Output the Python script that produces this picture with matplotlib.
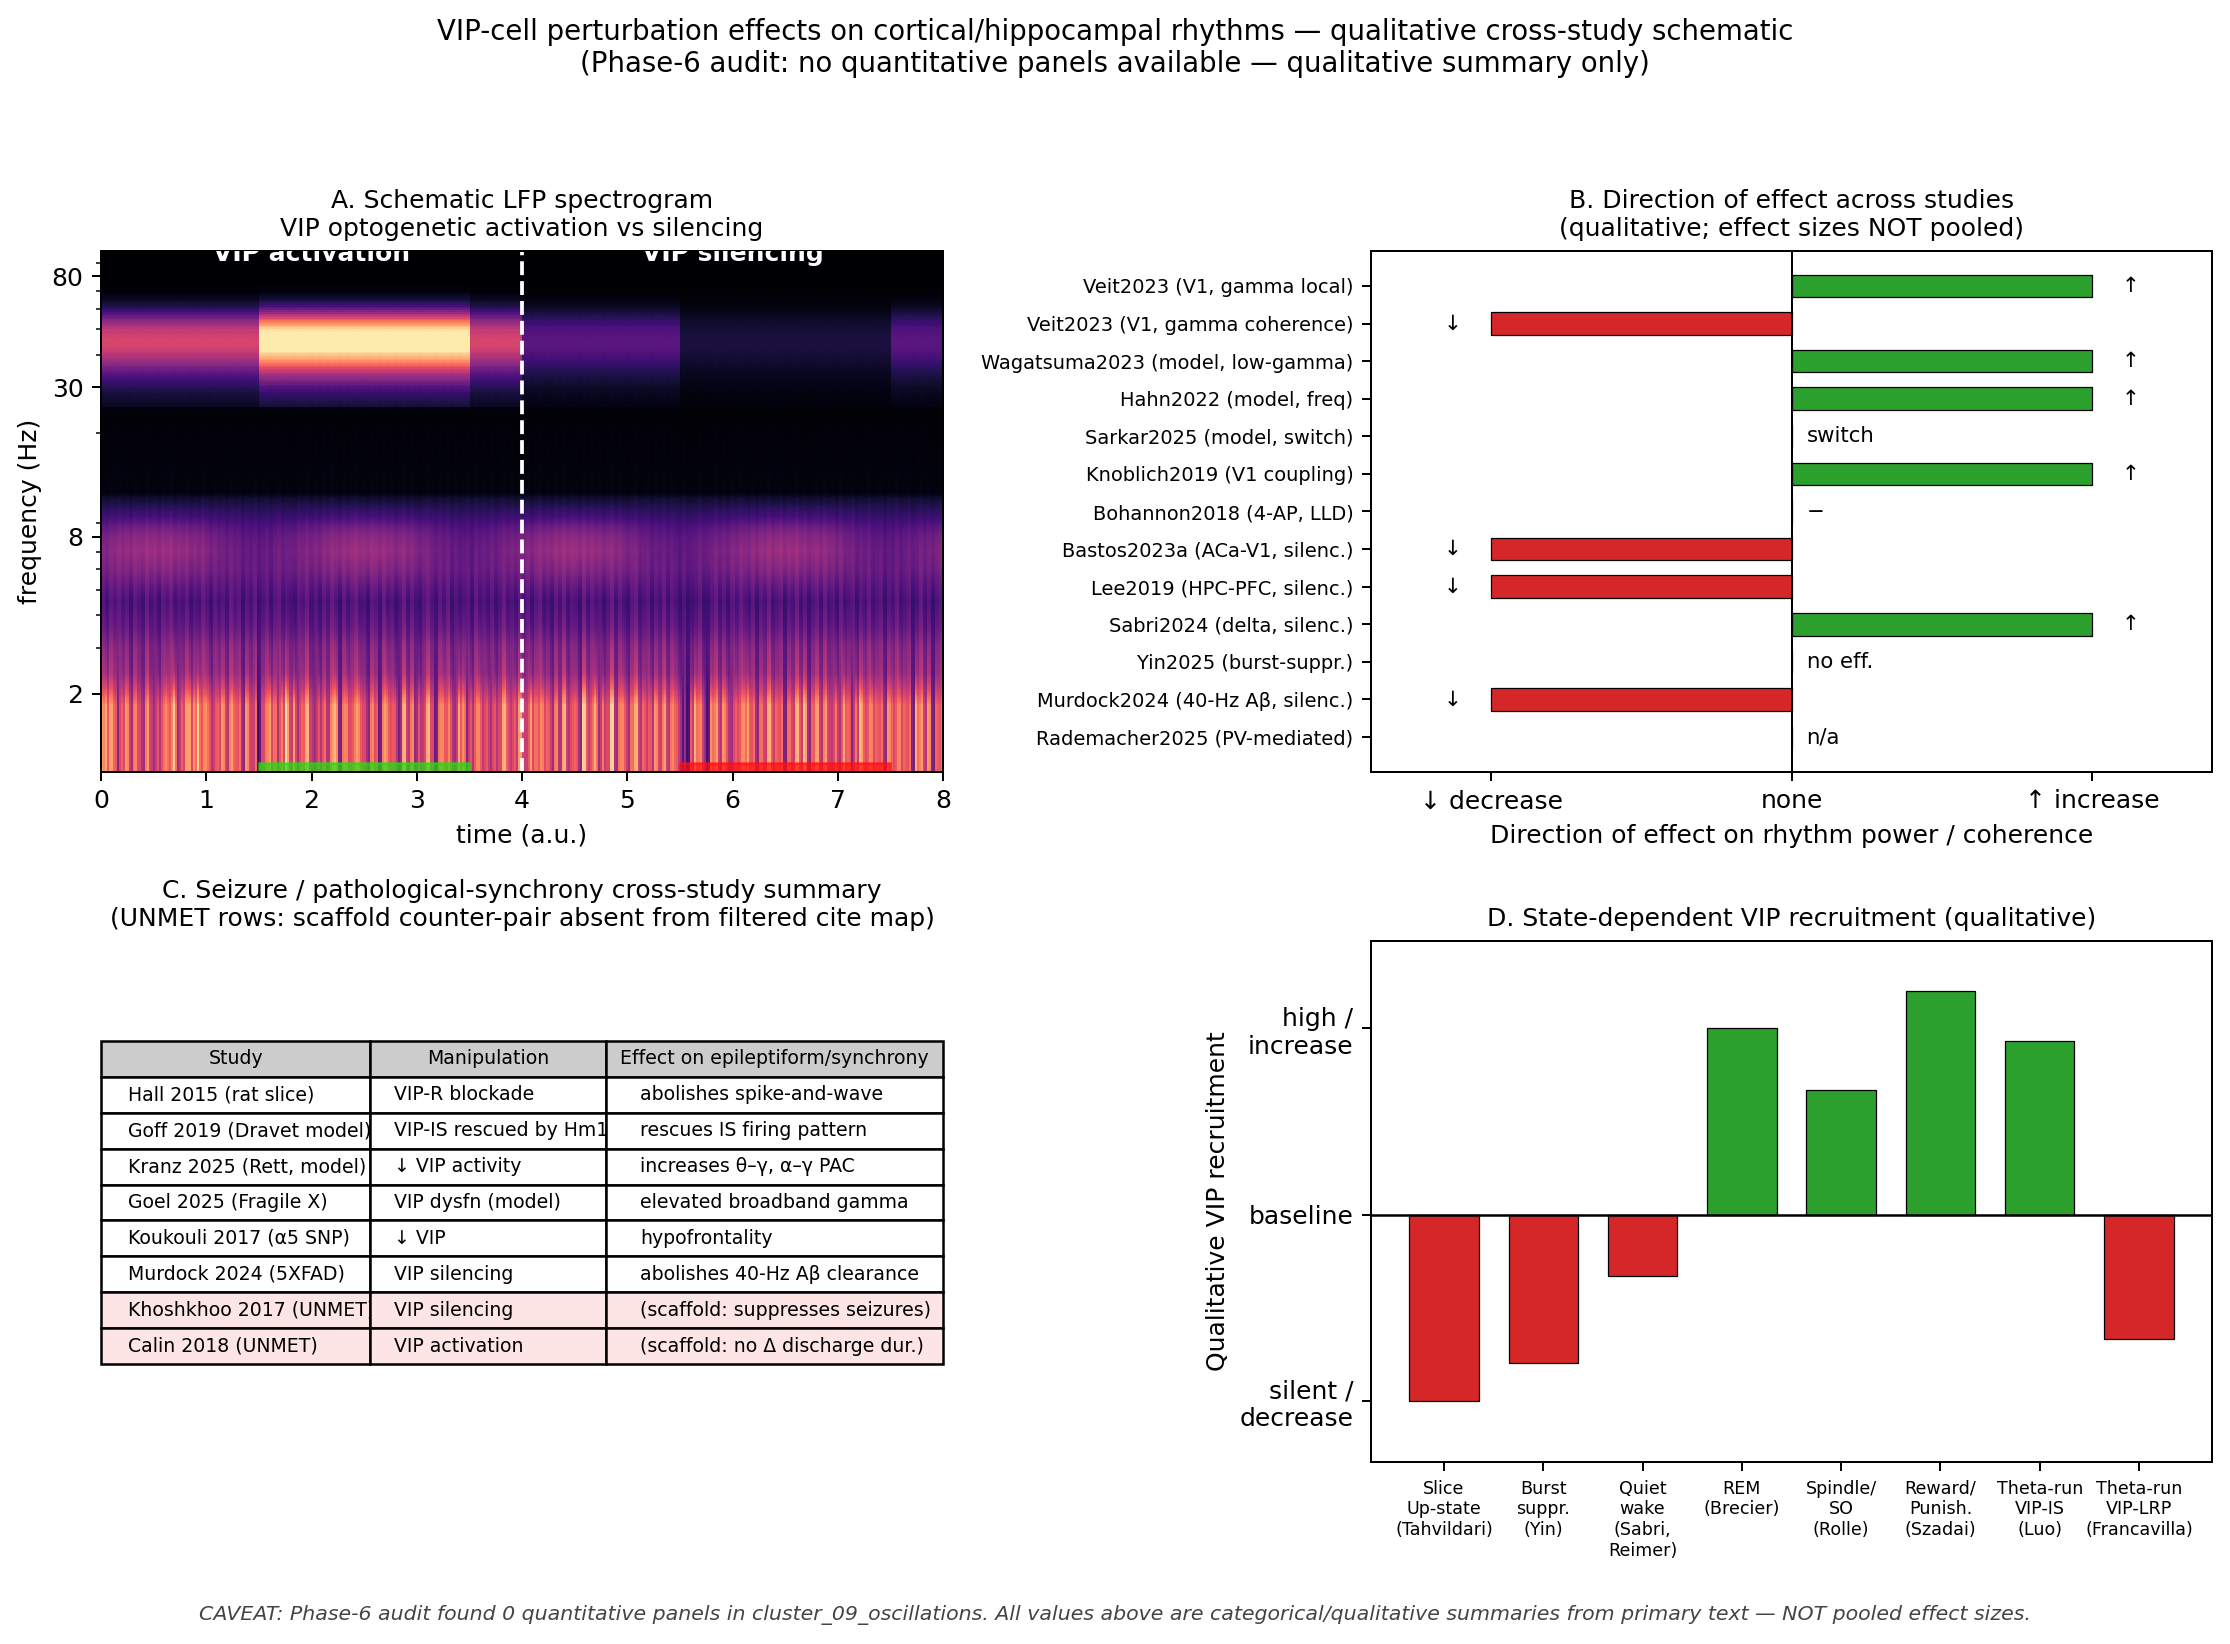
import numpy as np
import matplotlib
matplotlib.use("Agg")
import matplotlib.pyplot as plt
from matplotlib.ticker import ScalarFormatter, NullFormatter

W, H, DPI = 2230, 1644, 180

# Panel A: band levels of the schematic spectrogram
stripes = [
    7,8,7,6,2,6,7,5,6,5,4,6, 5,3,6,5,7,5,9,3,6,7,8,7,
    9,5,7,6,4,6,7,5,6,6,5,4, 7,5,4,1,5,6,8,6,3,7,9,5,
    8,3,6,7,5,3,6,5,4,6,8,3, 6,7,5,6,7,5,4,6,5,2,6,7,
    5,6,2,7,5,6,3,6,4,7,5,2, 6,7,5,6,3,8,7,2,6,5,7,4,
    6,3,6,5,7,6,4,6,7,
    5,4,8,6,5,7,6,5,6,4,7,5, 5,6,4,8,6,5,8,3,7,5,8,4,
    6,7,5,6,7,5,6,4,6,7,5,6, 5,6,6,5,1,1,6,8,6,5,1,7,
    6,5,7,6,3,6,5,7,8,5,4,6, 5,7,6,6,5,3,6,5,7,6,8,4,
    6,7,5,6,5,4,7,3,8,6,2,7, 8,6,5,7,6,5,4,7,6,5,7,6,
    5,3,8,6,5,7,3,6,5,
]
fine_stripes = [
    6,3,7,5,8,4,6,2,7,5,3,8, 4,6,2,7,5,8,3,6,4,7,2,5,
    3,8,5,2,7,4,6,3,8,5,7,2, 6,4,8,3,5,7,2,6,8,3,5,4,
    2,7,5,8,3,6,2,7,4,8,5,2, 7,3,6,8,4,5,2,7,6,3,8,4,
    6,2,5,8,3,7,4,2,6,8,5,3, 7,4,8,2,6,3,5,7,2,8,4,6,
    3,7,2,5,8,4,6,3,7,
    4,7,2,6,8,3,5,2,7,4,8,3, 6,5,2,8,3,7,4,6,2,5,8,3,
    7,4,2,6,8,3,5,7,2,6,4,8, 3,7,5,2,6,2,3,4,7,2,3,5,
    8,3,6,2,7,4,8,5,3,7,2,6, 4,8,3,5,7,2,6,4,8,3,6,2,
    5,7,3,8,4,6,2,8,3,5,7,2, 6,4,8,3,5,7,2,6,4,8,3,5,
    7,2,4,8,3,6,2,5,7,
]
base_freq = [1, 1.8, 2.1, 2.4, 3, 3.6, 4.5, 6, 8, 10, 11.3, 11.7, 25, 100]
base_level = [.62, .62, .50, .41, .37, .29, .24, .28, .25, .16, .09, .03, .012, 0]
low_gain = [.34, .34, .22, .12, .07, .03, .01, 0, 0, 0, 0, 0, 0, 0]
mid_gain = [.05, .05, .05, .06, .06, .05, .05, .03, .015, .015, .01, .005, .003, 0]
theta_freq = [4.5, 5, 5.8, 7.1, 8.6, 9.5, 11]
theta_depth = [0, .03, .09, .18, .13, .05, 0]
theta_time = [0, .25, .5, .9, 1.2, 1.5, 2, 2.25, 2.5, 2.9, 3.2, 3.5,
              4, 4.25, 4.5, 4.9, 5.2, 5.5, 6, 6.25, 6.5, 6.9, 7.2, 7.5, 8]
theta_mod = [.6, .9, 1, .8, .35, .15, .6, .9, 1, .8, .35, .15,
             .6, .9, 1, .8, .35, .15, .6, .9, 1, .8, .35, .15, .6]
gamma_freq = [24.9, 25, 28, 30, 34, 38, 42, 45, 50, 55, 60, 65, 70, 75]
gamma_profile = [0, .08, .16, .24, .46, .75, .95, 1, .9, .6, .28, .1, .02, 0]
gamma_edges = [0, 1.5, 3.5, 4, 5.5, 7.5, 8]
gamma_amps = [.58, 1.03, .58, .27, .11, .27]

# Panel B: direction of effect per study
b_studies = [
    "Veit2023 (V1, gamma local)", "Veit2023 (V1, gamma coherence)",
    "Wagatsuma2023 (model, low-gamma)", "Hahn2022 (model, freq)",
    "Sarkar2025 (model, switch)", "Knoblich2019 (V1 coupling)",
    "Bohannon2018 (4-AP, LLD)", "Bastos2023a (ACa-V1, silenc.)",
    "Lee2019 (HPC-PFC, silenc.)", "Sabri2024 (delta, silenc.)",
    "Yin2025 (burst-suppr.)", "Murdock2024 (40-Hz Aβ, silenc.)",
    "Rademacher2025 (PV-mediated)",
]
b_direction = [1, -1, 1, 1, 0, 1, 0, -1, -1, 1, 0, -1, 0]
b_notes = ["↑", "↓", "↑", "↑", "switch", "↑", "−", "↓", "↓", "↑", "no eff.", "↓", "n/a"]
b_ticks = ["↓ decrease", "none", "↑ increase"]

# Panel C: seizure / synchrony table
c_header = ["Study", "Manipulation", "Effect on epileptiform/synchrony"]
c_rows = [
    ["Hall 2015 (rat slice)", "VIP-R blockade", "abolishes spike-and-wave"],
    ["Goff 2019 (Dravet model)", "VIP-IS rescued by Hm1a", "rescues IS firing pattern"],
    ["Kranz 2025 (Rett, model)", "↓ VIP activity", "increases θ–γ, α–γ PAC"],
    ["Goel 2025 (Fragile X)", "VIP dysfn (model)", "elevated broadband gamma"],
    ["Koukouli 2017 (α5 SNP)", "↓ VIP", "hypofrontality"],
    ["Murdock 2024 (5XFAD)", "VIP silencing", "abolishes 40-Hz Aβ clearance"],
    ["Khoshkhoo 2017 (UNMET)", "VIP silencing", "(scaffold: suppresses seizures)"],
    ["Calin 2018 (UNMET)", "VIP activation", "(scaffold: no Δ discharge dur.)"],
]
c_unmet = [6, 7]

# Panel D: recruitment by brain state
d_states = [
    "Slice\nUp-state\n(Tahvildari)", "Burst\nsuppr.\n(Yin)", "Quiet\nwake\n(Sabri,\nReimer)",
    "REM\n(Brecier)", "Spindle/\nSO\n(Rolle)", "Reward/\nPunish.\n(Szadai)",
    "Theta-run\nVIP-IS\n(Luo)", "Theta-run\nVIP-LRP\n(Francavilla)",
]
d_values = [-1.0, -0.8, -0.33, 1.0, 0.67, 1.2, 0.93, -0.67]

GREEN, RED = "#2ca02c", "#d62728"
plt.rcParams["font.family"] = ["DejaVu Sans"]
fig = plt.figure(figsize=(W / DPI, H / DPI), dpi=DPI)


def axes_px(x0, y0, x1, y1):
    return fig.add_axes([x0 / W, 1 - y1 / H, (x1 - x0) / W, (y1 - y0) / H])


fig.text(0.5, 0.9708, "VIP-cell perturbation effects on cortical/hippocampal rhythms — qualitative cross-study schematic\n"
         "(Phase-6 audit: no quantitative panels available — qualitative summary only)",
         ha="center", va="center", fontsize=11)

# --- A: spectrogram built from the band tables above
ax = axes_px(101, 251, 943, 772)
s_coarse = np.array(stripes, dtype=float)
s_fine = np.array(fine_stripes, dtype=float)
n_cols = 2 * len(s_coarse)
s_low = np.repeat(s_coarse, 2)
s_low[1::2] = 0.6 * s_coarse + 0.4 * s_fine
s_mid = np.repeat(s_fine, 2)
t_edges = np.linspace(0, 8, n_cols + 1)
t_mid = 0.5 * (t_edges[:-1] + t_edges[1:])
f_edges = np.logspace(0, 2, 301)
f_mid = np.sqrt(f_edges[:-1] * f_edges[1:])
lf = np.log(f_mid)
base = np.interp(lf, np.log(base_freq), base_level)
g_low = np.interp(lf, np.log(base_freq), low_gain)
g_mid = np.interp(lf, np.log(base_freq), mid_gain)
depth = np.interp(lf, np.log(theta_freq), theta_depth)
mod = np.interp(t_mid, theta_time, theta_mod)
prof = np.interp(lf, np.log(gamma_freq), gamma_profile, left=0, right=0)
amp = np.array(gamma_amps)[np.searchsorted(gamma_edges, t_mid) - 1]
Z = (base[:, None] + g_low[:, None] * (s_low[None, :] - 5.3) / 4
     + g_mid[:, None] * (s_mid[None, :] - 5.0) / 3
     + depth[:, None] * mod[None, :] + prof[:, None] * amp[None, :])
ax.pcolormesh(t_edges, f_edges, np.clip(Z, 0, 0.96), cmap="magma", vmin=0, vmax=1, shading="flat", rasterized=True)
ax.set_yscale("log")
ax.set_ylim(1, 100)
ax.set_xlim(0, 8)
ax.set_yticks([2, 8, 30, 80])
ax.yaxis.set_major_formatter(ScalarFormatter())
ax.yaxis.set_minor_formatter(NullFormatter())
ax.axvline(4, color="white", ls="--", lw=1.5)
ax.axvspan(1.5, 3.5, ymin=0, ymax=0.018, color="#22dd11", alpha=0.7)
ax.axvspan(5.5, 7.5, ymin=0, ymax=0.018, color="#ff0f0f", alpha=0.7)
ax.text(2, 91.6, "VIP activation", color="white", weight="bold", fontsize=10,
        ha="center", va="baseline", clip_on=True)
ax.text(6, 91.6, "VIP silencing", color="white", weight="bold", fontsize=10,
        ha="center", va="baseline", clip_on=True)
ax.set_xlabel("time (a.u.)", fontsize=10)
ax.set_ylabel("frequency (Hz)", fontsize=10)
ax.set_title("A. Schematic LFP spectrogram\nVIP optogenetic activation vs silencing", fontsize=10)

# --- B: direction-of-effect bars
ax = axes_px(1371, 251, 2212, 772)
y = np.arange(len(b_studies))
ax.barh(y, b_direction, height=0.6, color=[GREEN if v > 0 else RED for v in b_direction],
        edgecolor="black", linewidth=0.5)
for yi, v, note in zip(y, b_direction, b_notes):
    if v == 0:
        ax.text(0.05, yi, note, ha="left", va="center", fontsize=8.5)
    else:
        ax.text(1.13 * v, yi, note, ha="center", va="center", fontsize=8.5)
ax.axvline(0, color="black", lw=0.8)
ax.set_xlim(-1.4, 1.4)
ax.set_yticks(y)
ax.set_yticklabels(b_studies, fontsize=7.75)
ax.invert_yaxis()
ax.set_xticks([-1, 0, 1])
ax.set_xticklabels(b_ticks, fontsize=10)
ax.set_xlabel("Direction of effect on rhythm power / coherence", fontsize=10)
ax.set_title("B. Direction of effect across studies\n(qualitative; effect sizes NOT pooled)", fontsize=10)

# --- C: summary table
ax = axes_px(101, 941, 943, 1462)
ax.axis("off")
ax.set_title("C. Seizure / pathological-synchrony cross-study summary\n"
             "(UNMET rows: scaffold counter-pair absent from filtered cite map)", fontsize=10)
tbl = ax.table(cellText=c_rows, colLabels=c_header, colWidths=[0.32, 0.28, 0.40], cellLoc="left",
               bbox=[0, 0.188, 1, 0.62])
tbl.auto_set_font_size(False)
tbl.set_fontsize(7.55)
for col in range(len(c_header)):
    cell = tbl[0, col]
    cell.set_facecolor("#cccccc")
    cell.get_text().set_ha("center")
    cell._loc = "center"
    for row in c_unmet:
        tbl[row + 1, col].set_facecolor("#fde5e5")

# --- D: state-dependent recruitment bars
ax = axes_px(1371, 941, 2212, 1462)
xs = np.arange(len(d_states))
ax.bar(xs, d_values, width=0.7, color=[GREEN if v > 0 else RED for v in d_values],
       edgecolor="black", linewidth=0.5)
ax.axhline(0, color="black", lw=1)
ax.set_ylim(-1.33, 1.47)
ax.set_xticks(xs)
ax.set_xticklabels(d_states, fontsize=7)
ax.set_yticks([-1, 0, 1])
ax.set_yticklabels(["silent /\ndecrease", "baseline", "high /\nincrease"], fontsize=10)
ax.set_ylabel("Qualitative VIP recruitment", fontsize=10)
ax.set_title("D. State-dependent VIP recruitment (qualitative)", fontsize=10)

fig.text(0.5, 0.0177, "CAVEAT: Phase-6 audit found 0 quantitative panels in cluster_09_oscillations. "
         "All values above are categorical/qualitative summaries from primary text — NOT pooled effect sizes.",
         ha="center", va="center", fontsize=8.2, style="italic", color="#444444")

fig.savefig("out.png", dpi=DPI)
